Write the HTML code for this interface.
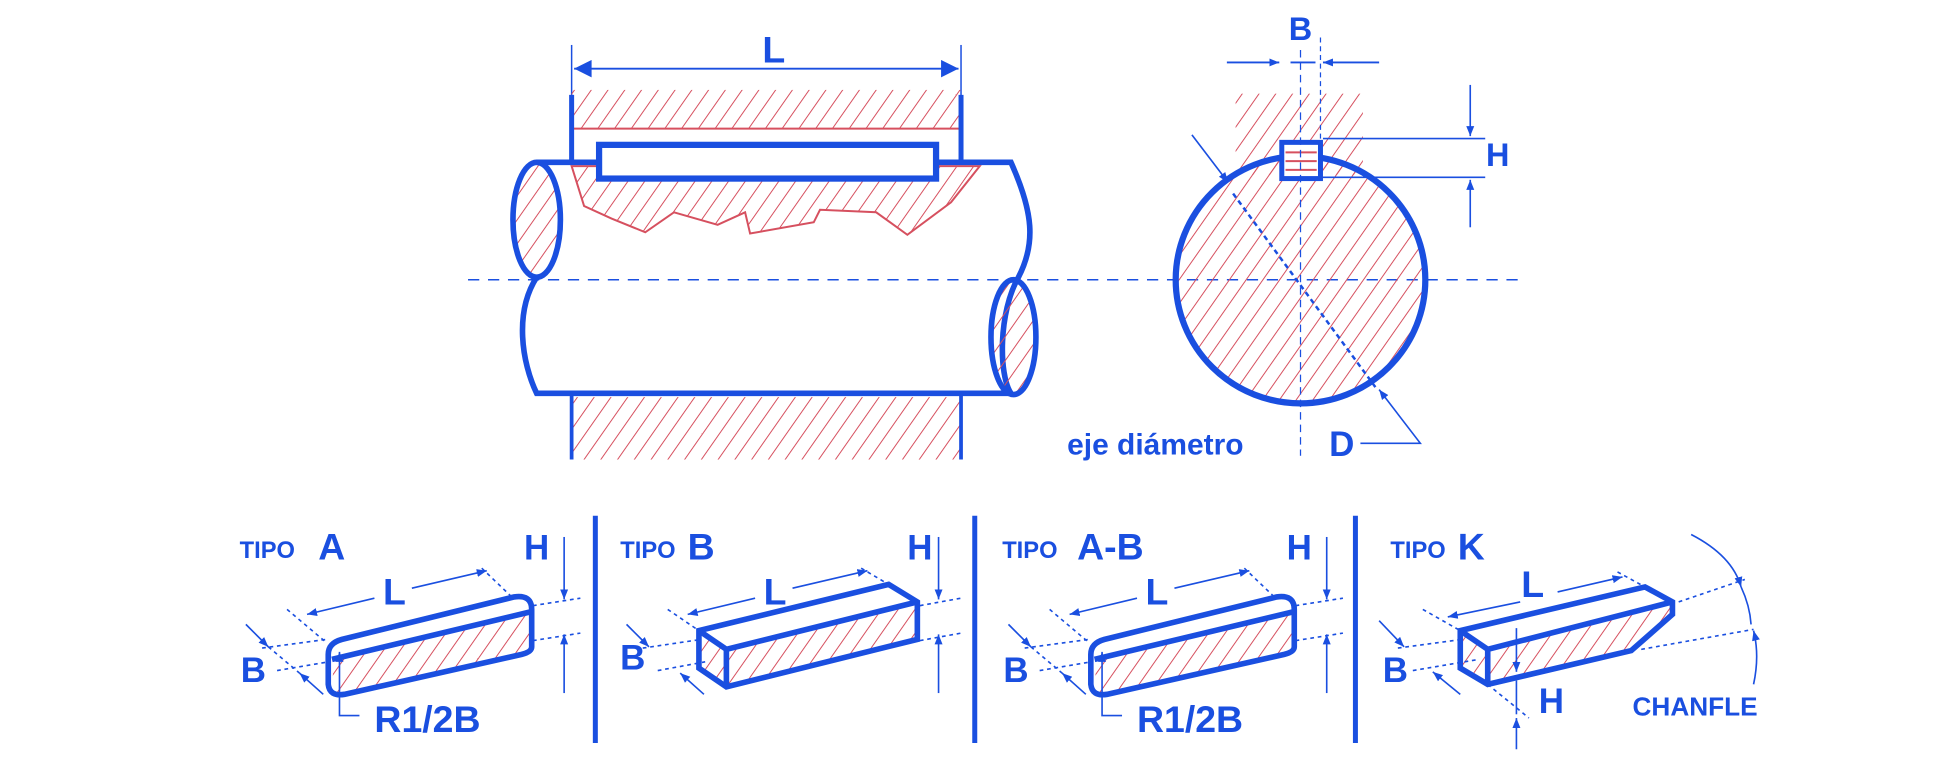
<!DOCTYPE html>
<html><head><meta charset="utf-8"><style>
html,body{margin:0;padding:0;background:#fff;}
svg{display:block;}
text{font-family:"Liberation Sans",sans-serif;font-weight:bold;fill:#1a4fe0;}
</style></head><body>
<svg width="1957" height="763" viewBox="0 0 1568 611" preserveAspectRatio="none" xmlns="http://www.w3.org/2000/svg">
<defs>
<pattern id="h" patternUnits="userSpaceOnUse" width="11" height="11" patternTransform="rotate(35)">
<line x1="0" y1="0" x2="0" y2="11" stroke="#d6505f" stroke-width="1.6"/>
</pattern>
<marker id="a" viewBox="0 0 10 10" refX="10" refY="5" markerWidth="8" markerHeight="8" orient="auto-start-reverse" markerUnits="userSpaceOnUse">
<path d="M0,1 L10,5 L0,9 z" fill="#1a4fe0"/></marker>
<marker id="A" viewBox="0 0 10 10" refX="10" refY="5" markerWidth="18" markerHeight="14" orient="auto-start-reverse" markerUnits="userSpaceOnUse">
<path d="M0,0 L10,5 L0,10 z" fill="#1a4fe0"/></marker>
</defs>
<g stroke="#1a4fe0" fill="none">
<line x1="375" y1="224" x2="1220" y2="224" stroke-width="1.2" stroke-dasharray="9,7"/>
<line x1="458" y1="36" x2="458" y2="80" stroke-width="1.2"/>
<line x1="770" y1="36" x2="770" y2="80" stroke-width="1.2"/>
<line x1="460" y1="55" x2="768" y2="55" stroke-width="1.5" marker-start="url(#A)" marker-end="url(#A)"/>
<rect x="458" y="72" width="312" height="31" fill="url(#h)" stroke="none"/>
<path d="M458,103 L770,103" stroke="#d6505f" stroke-width="1.6"/>
<line x1="458" y1="76" x2="458" y2="132" stroke-width="4"/>
<line x1="770" y1="76" x2="770" y2="132" stroke-width="4"/>
<path d="M458,133 L785,133 L762,162 L727,188 L702,170 L657,168 L652,178 L601,187 L597,170 L575,180 L540,170 L517,186 L490,175 L468,165 Z" fill="url(#h)" stroke="#d6505f" stroke-width="1.6"/>
<rect x="458" y="318" width="312" height="50" fill="url(#h)" stroke="none"/>
<line x1="458" y1="316" x2="458" y2="368" stroke-width="3"/>
<line x1="770" y1="316" x2="770" y2="368" stroke-width="3"/>
<ellipse cx="430" cy="176" rx="19" ry="46" fill="url(#h)" stroke-width="4.5"/>
<path d="M430,130 L810,130 C828,170 830,195 816,222 C800,250 800,300 810,315 L430,315 C418,290 412,250 430,222" stroke-width="4.5"/>
<ellipse cx="812" cy="270" rx="18" ry="46" fill="url(#h)" stroke-width="4.5"/>
<rect x="480" y="116" width="270" height="27" fill="#fff" stroke-width="5"/>
<rect x="990" y="75" width="102" height="65" fill="url(#h)" stroke="none"/>
<ellipse cx="1042" cy="224" rx="100" ry="99" fill="url(#h)" stroke-width="5"/>
<rect x="1027" y="114" width="31" height="29" fill="#fff" stroke-width="4"/>
<path d="M1030,122 H1055 M1030,129 H1055 M1030,136 H1055" stroke="#d6505f" stroke-width="1.6"/>
<line x1="1042" y1="40" x2="1042" y2="365" stroke-width="1" stroke-dasharray="6,4"/>
<line x1="1058" y1="30" x2="1058" y2="112" stroke-width="1" stroke-dasharray="4,3"/>
<line x1="983" y1="50" x2="1025" y2="50" stroke-width="1.5" marker-end="url(#a)"/>
<line x1="1105" y1="50" x2="1060" y2="50" stroke-width="1.5" marker-end="url(#a)"/>
<line x1="1034" y1="50" x2="1054" y2="50" stroke-width="1.5"/>
<line x1="1060" y1="111" x2="1190" y2="111" stroke-width="1.3"/>
<line x1="1060" y1="142" x2="1190" y2="142" stroke-width="1.3"/>
<line x1="1178" y1="68" x2="1178" y2="109" stroke-width="1.3" marker-end="url(#a)"/>
<line x1="1178" y1="182" x2="1178" y2="144" stroke-width="1.3" marker-end="url(#a)"/>
<line x1="955" y1="108" x2="984" y2="146" stroke-width="1.3" marker-end="url(#a)"/>
<line x1="988" y1="155" x2="1102" y2="310" stroke-width="2" stroke-dasharray="4,3"/>
<polyline points="1090,355 1138,355 1105,312" stroke-width="1.3" marker-end="url(#a)"/>
<line x1="477" y1="413" x2="477" y2="595" stroke-width="4"/>
<line x1="781" y1="413" x2="781" y2="595" stroke-width="4"/>
<line x1="1086" y1="413" x2="1086" y2="595" stroke-width="4"/>
</g>
<text x="620" y="50" font-size="30" text-anchor="middle">L</text>
<text x="1042" y="32" font-size="26" text-anchor="middle">B</text>
<text x="1200" y="133" font-size="26" text-anchor="middle">H</text>
<text x="855" y="364" font-size="24">eje diámetro</text>
<text x="1075" y="365" font-size="28" text-anchor="middle">D</text>

<g id="pa">
<g stroke="#1a4fe0" fill="none">
<path d="M268,527 L425,490 L425,518 Q425,522 418,524 L276,556 Q266,558 266,548 Z" fill="url(#h)" stroke="none"/>
<path d="M274,512 L412,478 Q426,476 426,488 L426,518 Q426,522 418,524 L276,556 Q264,558 263,548 L263,524 Q263,515 274,512 Z" stroke-width="4.5"/>
<line x1="266" y1="528" x2="425" y2="490" stroke-width="4.5"/>
<line x1="230" y1="488" x2="262" y2="515" stroke-width="1.3" stroke-dasharray="3,3"/>
<line x1="386" y1="455" x2="410" y2="478" stroke-width="1.3" stroke-dasharray="3,3"/>
<line x1="300" y1="479" x2="246" y2="492" stroke-width="1.3" marker-end="url(#a)"/>
<line x1="330" y1="471" x2="390" y2="457" stroke-width="1.3" marker-end="url(#a)"/>
<line x1="210" y1="519" x2="262" y2="512" stroke-width="1.3" stroke-dasharray="3,3"/>
<line x1="222" y1="537" x2="263" y2="530" stroke-width="1.3" stroke-dasharray="3,3"/>
<line x1="197" y1="500" x2="215" y2="518" stroke-width="1.3" marker-end="url(#a)"/>
<line x1="259" y1="556" x2="240" y2="539" stroke-width="1.3" marker-end="url(#a)"/>
<line x1="215" y1="518" x2="240" y2="539" stroke-width="1.3" stroke-dasharray="3,3"/>
<line x1="427" y1="485" x2="465" y2="479" stroke-width="1.3" stroke-dasharray="3,3"/>
<line x1="427" y1="513" x2="465" y2="507" stroke-width="1.3" stroke-dasharray="3,3"/>
<line x1="452" y1="430" x2="452" y2="480" stroke-width="1.3" marker-end="url(#a)"/>
<line x1="452" y1="555" x2="452" y2="508" stroke-width="1.3" marker-end="url(#a)"/>
<polyline points="288,573 272,573 272,522" stroke-width="1.3" marker-end="url(#a)"/>
</g>
<text x="192" y="447" font-size="19">TIPO</text>
<text x="430" y="448" font-size="28" text-anchor="middle">H</text>
<text x="316" y="484" font-size="30" text-anchor="middle">L</text>
<text x="203" y="546" font-size="28" text-anchor="middle">B</text>
<text x="300" y="586" font-size="30">R1/2B</text>
</g>
<text x="255" y="448" font-size="30">A</text>
<g transform="translate(611,0)"><use href="#pa"/></g>
<text x="863" y="448" font-size="30">A-B</text>

<g stroke="#1a4fe0" fill="none">
<path d="M582,520 L735,482 L735,512 L582,550 Z M560,505 L582,520 L582,550 L560,535 Z" fill="url(#h)" stroke="none"/>
<path d="M560,505 L712,468 L735,482 L735,512 L582,550 L560,535 Z" stroke-width="4.5"/>
<path d="M560,505 L582,520 L735,482 M582,520 L582,550" stroke-width="4.5"/>
<line x1="535" y1="488" x2="560" y2="505" stroke-width="1.3" stroke-dasharray="3,3"/>
<line x1="690" y1="455" x2="712" y2="468" stroke-width="1.3" stroke-dasharray="3,3"/>
<line x1="605" y1="479" x2="551" y2="492" stroke-width="1.3" marker-end="url(#a)"/>
<line x1="635" y1="471" x2="695" y2="457" stroke-width="1.3" marker-end="url(#a)"/>
<line x1="515" y1="519" x2="562" y2="512" stroke-width="1.3" stroke-dasharray="3,3"/>
<line x1="527" y1="537" x2="565" y2="530" stroke-width="1.3" stroke-dasharray="3,3"/>
<line x1="502" y1="500" x2="520" y2="518" stroke-width="1.3" marker-end="url(#a)"/>
<line x1="564" y1="556" x2="545" y2="539" stroke-width="1.3" marker-end="url(#a)"/>
<line x1="737" y1="485" x2="770" y2="479" stroke-width="1.3" stroke-dasharray="3,3"/>
<line x1="737" y1="513" x2="770" y2="507" stroke-width="1.3" stroke-dasharray="3,3"/>
<line x1="752" y1="430" x2="752" y2="480" stroke-width="1.3" marker-end="url(#a)"/>
<line x1="752" y1="555" x2="752" y2="508" stroke-width="1.3" marker-end="url(#a)"/>
</g>
<text x="497" y="447" font-size="19">TIPO</text>
<text x="551" y="448" font-size="30">B</text>
<text x="737" y="448" font-size="28" text-anchor="middle">H</text>
<text x="621" y="484" font-size="30" text-anchor="middle">L</text>
<text x="507" y="536" font-size="28" text-anchor="middle">B</text>

<g stroke="#1a4fe0" fill="none">
<path d="M1192,520 L1340,482 L1338,490 L1310,520 L1192,548 Z M1170,505 L1192,520 L1192,548 L1170,535 Z" fill="url(#h)" stroke="none"/>
<path d="M1170,505 L1318,470 L1340,482 L1340,492 L1307,521 L1192,548 L1170,535 Z" stroke-width="4.5"/>
<path d="M1170,505 L1192,520 L1340,482 M1192,520 L1192,548" stroke-width="4.5"/>
<line x1="1140" y1="488" x2="1170" y2="505" stroke-width="1.3" stroke-dasharray="3,3"/>
<line x1="1296" y1="458" x2="1318" y2="470" stroke-width="1.3" stroke-dasharray="3,3"/>
<line x1="1218" y1="482" x2="1160" y2="494" stroke-width="1.3" marker-end="url(#a)"/>
<line x1="1248" y1="474" x2="1300" y2="462" stroke-width="1.3" marker-end="url(#a)"/>
<line x1="1120" y1="519" x2="1172" y2="512" stroke-width="1.3" stroke-dasharray="3,3"/>
<line x1="1132" y1="537" x2="1185" y2="528" stroke-width="1.3" stroke-dasharray="3,3"/>
<line x1="1105" y1="497" x2="1125" y2="518" stroke-width="1.3" marker-end="url(#a)"/>
<line x1="1170" y1="556" x2="1148" y2="538" stroke-width="1.3" marker-end="url(#a)"/>
<line x1="1192" y1="548" x2="1225" y2="575" stroke-width="1.3" stroke-dasharray="3,3"/>
<line x1="1215" y1="503" x2="1215" y2="538" stroke-width="1.3" marker-end="url(#a)"/>
<line x1="1215" y1="600" x2="1215" y2="575" stroke-width="1.3" marker-end="url(#a)"/>
<line x1="1215" y1="545" x2="1215" y2="572" stroke-width="1.3"/>
<line x1="1345" y1="482" x2="1398" y2="464" stroke-width="1.3" stroke-dasharray="3,3"/>
<line x1="1315" y1="520" x2="1405" y2="504" stroke-width="1.3" stroke-dasharray="3,3"/>
<path d="M1355,428 Q1388,445 1395,470" stroke-width="1.3" marker-end="url(#a)"/>
<path d="M1405,548 Q1410,525 1405,505" stroke-width="1.3" marker-end="url(#a)"/>
<path d="M1395,470 Q1402,485 1403,500" stroke-width="1.3"/>
</g>
<text x="1114" y="447" font-size="19">TIPO</text>
<text x="1168" y="448" font-size="30">K</text>
<text x="1228" y="478" font-size="30" text-anchor="middle">L</text>
<text x="1118" y="546" font-size="28" text-anchor="middle">B</text>
<text x="1243" y="571" font-size="28" text-anchor="middle">H</text>
<text x="1308" y="573" font-size="21">CHANFLE</text>
</svg>
</body></html>
